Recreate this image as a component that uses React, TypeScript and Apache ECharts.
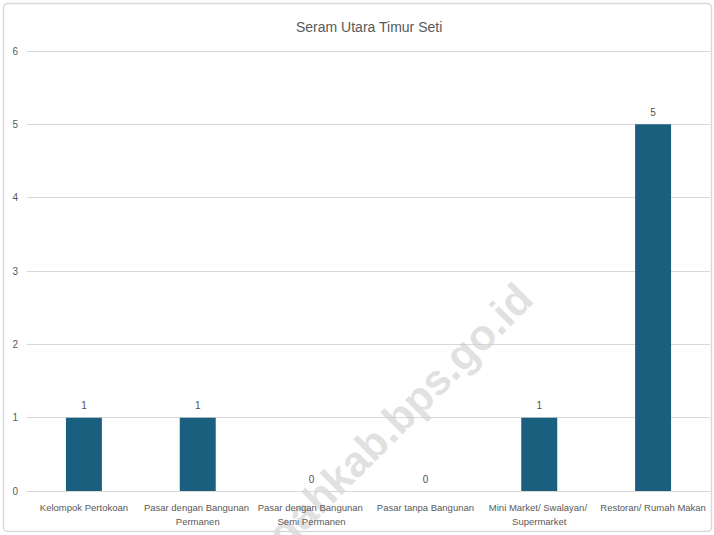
import React, { useEffect, useRef } from "react";
import * as echarts from "echarts";

const categories = [
  "Kelompok Pertokoan",
  "Pasar dengan Bangunan Permanen",
  "Pasar dengan Bangunan Semi Permanen",
  "Pasar tanpa Bangunan",
  "Mini Market/ Swalayan/ Supermarket",
  "Restoran/ Rumah Makan",
];
const values = [1, 1, 0, 0, 1, 5];
const title = "Seram Utara Timur Seti";
const watermark = "malukutengahkab.bps.go.id";

const FONT = "'Liberation Sans', Arial, sans-serif";

export default function App() {
  const ref = useRef<HTMLDivElement>(null);
  useEffect(() => {
    if (!ref.current) return;
    const chart = echarts.init(ref.current, null, { renderer: "svg" });
    chart.setOption({
      animation: false,
      backgroundColor: "#ffffff",
      title: {
        text: title,
        left: 291,
        top: 15,
        textStyle: { fontFamily: FONT, fontSize: 14, fontWeight: "normal", color: "#595959" },
      },
      grid: { left: 27, right: 4, top: 51, bottom: 44, containLabel: false, outerBoundsMode: "none" },
      xAxis: {
        type: "category",
        data: categories,
        axisLine: { show: true, lineStyle: { color: "#d9d9d9", width: 1 } },
        axisTick: { show: false },
        axisLabel: {
          interval: 0,
          margin: 9,
          width: 110,
          overflow: "break",
          lineHeight: 14,
          fontFamily: FONT,
          fontSize: 9.5,
          color: "#595959",
        },
        z: 3,
      },
      yAxis: {
        type: "value",
        min: 0,
        max: 6,
        interval: 1,
        axisLine: { show: false },
        axisTick: { show: false },
        splitLine: { lineStyle: { color: "#d9d9d9", width: 1 } },
        axisLabel: { fontFamily: FONT, fontSize: 10, color: "#595959", margin: 9 },
      },
      series: [
        {
          type: "bar",
          data: values,
          barWidth: "31.6%",
          itemStyle: { color: "#1a5f7e" },
          label: {
            show: true,
            position: "top",
            distance: 7,
            fontFamily: FONT,
            fontSize: 10,
            color: "#505050",
          },
          z: 2,
        },
      ],
      graphic: [
        {
          type: "rect",
          shape: { x: 3.5, y: 3.5, width: 708, height: 528, r: 4 },
          style: { fill: "none", stroke: "#d9d9d9", lineWidth: 1.5 },
          z: 100,
          silent: true,
        },
        {
          type: "text",
          x: 540,
          y: 306,
          rotation: Math.PI / 4,
          style: {
            text: watermark,
            fontFamily: FONT,
            fontSize: 43,
            fontWeight: "bold",
            fill: "rgba(205,205,205,0.6)",
            textAlign: "right",
            textVerticalAlign: "bottom",
          },
          z: 1,
          silent: true,
        },
      ],
    });
    return () => chart.dispose();
  }, []);
  return (
    <div
      ref={ref}
      style={{ position: "fixed", left: 0, top: 0, width: 714, height: 535 }}
    />
  );
}
